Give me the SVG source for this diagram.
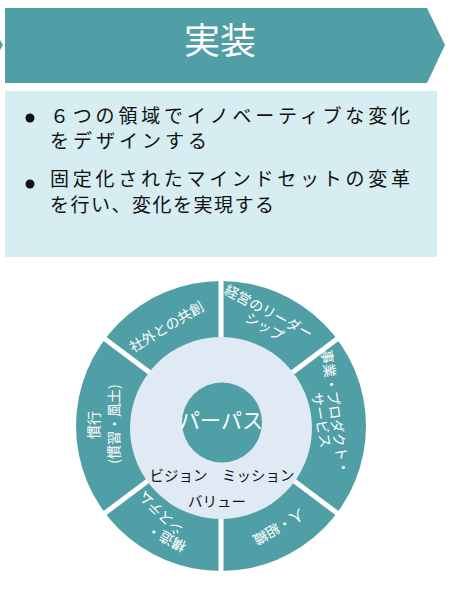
<svg xmlns="http://www.w3.org/2000/svg" width="468" height="600" viewBox="0 0 468 600">
<style>
.jp{font-family:"Noto Sans CJK JP","Noto Sans",sans-serif;}
.seg{fill:#FFFFFF;font-size:14px;text-anchor:middle;dominant-baseline:central;}
.teal{fill:#519FA6;}
.body{fill:#111111;font-size:19px;}
.div{stroke:#FFFFFF;stroke-width:5;}
</style>
<rect width="468" height="600" fill="#FFFFFF"/>
<g id="header">
<polygon class="teal" points="0,40 3,45 0,50"/>
<polygon class="teal" points="5,8 427,8 445,45 427,83 5,83"/>
<text class="jp" x="220" y="54" font-size="36" fill="#FFFFFF" text-anchor="middle">実装</text>
</g>
<g id="textbox">
<rect x="5" y="91" width="432" height="166" fill="#D6EEF2"/>
<circle cx="30" cy="118" r="4.5" fill="#111111"/>
<circle cx="30" cy="184" r="4.5" fill="#111111"/>
<text class="jp body" x="50" y="123" textLength="360" lengthAdjust="spacing">６つの領域でイノベーティブな変化</text>
<text class="jp body" x="50" y="148" textLength="157" lengthAdjust="spacing">をデザインする</text>
<text class="jp body" x="50" y="186" textLength="360" lengthAdjust="spacing">固定化されたマインドセットの変革</text>
<text class="jp body" x="50" y="212" textLength="224" lengthAdjust="spacing">を行い、変化を実現する</text>
</g>
<g id="ring">
<circle class="teal" cx="221" cy="426" r="145"/>
</g>
<g id="connectors">
<line class="div" x1="221" y1="426" x2="221" y2="276"/>
<line class="div" x1="221" y1="426" x2="221" y2="576"/>
<line class="div" x1="221" y1="426" x2="341" y2="336"/>
<line class="div" x1="221" y1="426" x2="101" y2="336"/>
<line class="div" x1="221" y1="426" x2="101" y2="516"/>
<line class="div" x1="221" y1="426" x2="341" y2="516"/>
</g>
<g id="seg-kyoso">
<text class="jp seg" font-size="15" transform="translate(166,326) rotate(-31)">社外との共創</text>
</g>
<g id="seg-leadership">
<text class="jp seg" transform="translate(269,311) rotate(28)">経営のリーダー</text>
<text class="jp seg" transform="translate(265,326) rotate(30)">シップ</text>
</g>
<g id="seg-business">
<text class="jp seg" transform="translate(336,412) rotate(82)">事業・プロダクト・</text>
<text class="jp seg" transform="translate(322,420) rotate(80)">サービス</text>
</g>
<g id="seg-people">
<text class="jp seg" font-size="12.5" transform="translate(279,528) rotate(150)">人・組織</text>
</g>
<g id="seg-structure">
<text class="jp seg" font-size="12" transform="translate(166,539) rotate(-153)">構造・</text>
<text class="jp seg" font-size="12" transform="translate(160,514) rotate(-135)">システム</text>
</g>
<g id="seg-custom">
<text class="jp seg" font-size="14.5" transform="translate(93,425) rotate(-90)">慣行</text>
<text class="jp seg" font-size="13" transform="translate(113,424) rotate(-90)">(慣習・風土)</text>
</g>
<g id="center">
<circle cx="221" cy="428" r="91" fill="#DFEAF4"/>
<circle class="teal" cx="222" cy="422.5" r="40"/>
<text class="jp" x="221" y="419" font-size="21" fill="#FFFFFF" text-anchor="middle" dominant-baseline="central">パーパス</text>
<text class="jp" x="222" y="474" font-size="14.5" fill="#111111" text-anchor="middle" dominant-baseline="central">ビジョン　ミッション</text>
<text class="jp" x="217" y="500" font-size="14.5" fill="#111111" text-anchor="middle" dominant-baseline="central">バリュー</text>
</g>
</svg>
